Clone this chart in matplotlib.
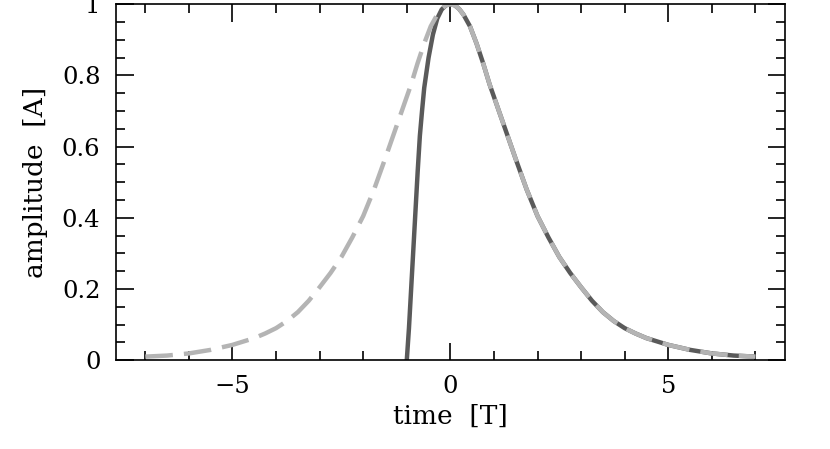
import matplotlib
matplotlib.use("Agg")
import matplotlib.pyplot as plt
from matplotlib.ticker import MultipleLocator, FuncFormatter

# dashed reference pulse (light gray)
t_ref = [-7.0, -6.5, -6.0, -5.5, -5.0, -4.5, -4.25, -4.0, -3.75, -3.5,
         -3.25, -3.0, -2.75, -2.5, -2.25, -2.0, -1.75, -1.5, -1.3, -1.1,
         -0.9, -0.75, -0.6, -0.45, -0.3, -0.2, -0.1, 0.0, 0.1, 0.2, 0.3,
         0.45, 0.6, 0.75, 0.9, 1.1, 1.3, 1.5, 1.75, 2.0, 2.25, 2.5, 2.75,
         3.0, 3.25, 3.5, 3.75, 4.0, 4.25, 4.5, 5.0, 5.5, 6.0, 6.5, 7.0]
a_ref = [0.010, 0.013, 0.019, 0.029, 0.043, 0.062, 0.075, 0.090, 0.110,
         0.135, 0.167, 0.205, 0.245, 0.290, 0.345, 0.405, 0.480, 0.565,
         0.635, 0.705, 0.775, 0.835, 0.890, 0.938, 0.971, 0.987, 0.997,
         1.000, 0.997, 0.987, 0.971, 0.938, 0.890, 0.835, 0.775, 0.705,
         0.635, 0.565, 0.480, 0.405, 0.345, 0.290, 0.245, 0.205, 0.167,
         0.135, 0.110, 0.090, 0.075, 0.062, 0.043, 0.029, 0.019, 0.013,
         0.010]

# solid pulse (dark gray), switched on at t = -1
t_sig = [-1.0, -0.95, -0.9, -0.85, -0.8, -0.75, -0.7, -0.65, -0.6, -0.5,
         -0.4, -0.3, -0.2, -0.1, 0.0, 0.1, 0.2, 0.3, 0.45, 0.6, 0.75, 0.9,
         1.1, 1.3, 1.5, 1.75, 2.0, 2.25, 2.5, 2.75, 3.0, 3.25, 3.5, 3.75,
         4.0, 4.25, 4.5, 5.0, 5.5, 6.0, 6.5, 7.0]
a_sig = [0.0, 0.09, 0.20, 0.31, 0.42, 0.53, 0.63, 0.70, 0.765, 0.85, 0.915,
         0.96, 0.985, 0.997, 1.000, 0.997, 0.987, 0.971, 0.938, 0.890,
         0.835, 0.775, 0.705, 0.635, 0.565, 0.480, 0.405, 0.345, 0.290,
         0.245, 0.205, 0.167, 0.135, 0.110, 0.090, 0.075, 0.062, 0.043,
         0.029, 0.019, 0.013, 0.010]

plt.rcParams["font.family"] = ["DejaVu Serif"]
plt.rcParams["font.size"] = 17.5

fig = plt.figure(figsize=(8.3, 4.49), dpi=100)
ax = fig.add_axes([0.1394, 0.1978, 0.8064, 0.7928])

ax.plot(t_sig, a_sig, color="#5a5a5a", lw=3.2, solid_capstyle="butt")
ax.plot(t_ref, a_ref, color="#b4b4b4", lw=3.2, linestyle=(0, (6.2, 2.5)),
        dash_capstyle="butt")

ax.set_xlim(-7.68, 7.68)
ax.set_ylim(0, 1)

ax.xaxis.set_major_locator(MultipleLocator(5))
ax.xaxis.set_minor_locator(MultipleLocator(1))
ax.yaxis.set_major_locator(MultipleLocator(0.2))
ax.yaxis.set_minor_locator(MultipleLocator(0.05))
ax.yaxis.set_major_formatter(FuncFormatter(lambda v, p: "%g" % round(v, 2)))

ax.tick_params(which="both", direction="in", top=True, right=True, width=1.2)
ax.tick_params(which="major", length=12.6)
ax.tick_params(which="minor", length=6.5)
ax.tick_params(axis="x", pad=11)
ax.tick_params(axis="y", pad=11)
for s in ax.spines.values():
    s.set_linewidth(1.2)

ax.set_xlabel("time  [T]", fontsize=19, labelpad=4)
ax.set_ylabel("amplitude  [A]", fontsize=19, labelpad=10)

fig.savefig("out.png", dpi=100)
